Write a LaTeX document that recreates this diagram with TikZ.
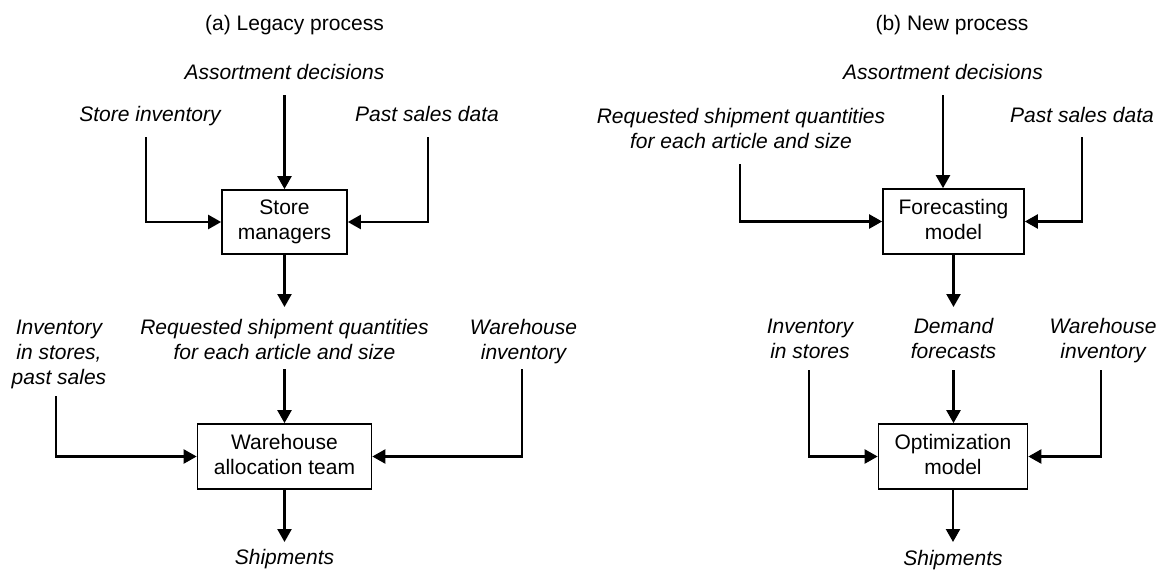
\documentclass[tikz,border=0pt]{standalone}
\usepackage{fontspec}
\setmainfont{Liberation Sans}
\usetikzlibrary{arrows.meta}
\newcommand{\stk}[1]{\begin{tabular}[t]{@{}c@{}}#1\end{tabular}}
\newcommand{\bstk}[1]{\begin{tabular}{@{}c@{}}#1\end{tabular}}
\begin{document}
\begin{tikzpicture}[x=1pt,y=-1pt,
  every node/.style={font=\fontsize{21}{25}\selectfont},
  lbl/.style={anchor=base, inner sep=0pt, font=\fontsize{21}{25}\selectfont\itshape},
  ttl/.style={anchor=base, inner sep=0pt},
  box/.style={draw, line width=1.7pt, inner sep=0pt, anchor=center},
  arr/.style={line width=2.3pt, -{Triangle[length=13pt,width=14pt]}}]
\useasboundingbox (0,0) rectangle (1157,570);

% ---------- (a) Legacy process ----------
\node[ttl] (ta) at (294.5,30) {(a) Legacy process};
\node[lbl] (asA) at (284.5,79) {Assortment decisions};
\node[lbl] (siA) at (150,121) {Store inventory};
\node[lbl] (psA) at (427,121) {Past sales data};
\node[box, minimum width=125pt, minimum height=64pt] (sm) at (284.5,222) {\bstk{Store\\managers}};
\node[lbl] (rqA) at (284.5,334) {\stk{Requested shipment quantities\\for each article and size}};
\node[lbl] (ivA) at (59,334) {\stk{Inventory\\in stores,\\past sales}};
\node[lbl] (wiA) at (523.5,334) {\stk{Warehouse\\inventory}};
\node[box, minimum width=174pt, minimum height=65pt] (wh) at (284.5,456.5) {\bstk{Warehouse\\allocation team}};
\node[lbl] (shA) at (284.5,564) {Shipments};

\draw[arr] (asA.base) ++(0,16) -- (sm.north);
\draw[arr] (siA.base) ++(-4,16) |- (sm.west);
\draw[arr] (psA.base) ++(1,16) |- (sm.east);
\draw[arr] (sm.south) -- ([yshift=27pt]rqA.base);
\draw[arr] (rqA.base) ++(0,35) -- (wh.north);
\draw[arr] (ivA.base) ++(-3,62) |- (wh.west);
\draw[arr] (wiA.base) ++(-1.5,35) |- (wh.east);
\draw[arr] (wh.south) -- ([yshift=22pt]shA.base);

% ---------- (b) New process ----------
\node[ttl] (tb) at (952,30) {(b) New process};
\node[lbl] (asB) at (943,79) {Assortment decisions};
\node[lbl] (rqB) at (741,123) {\stk{Requested shipment quantities\\for each article and size}};
\node[lbl] (psB) at (1082,122) {Past sales data};
\node[box, minimum width=141pt, minimum height=65pt] (fc) at (953.5,221.5) {\bstk{Forecasting\\model}};
\node[lbl] (ivB) at (810,333) {\stk{Inventory\\in stores}};
\node[lbl] (dmB) at (953.5,333) {\stk{Demand\\forecasts}};
\node[lbl] (wiB) at (1103,333) {\stk{Warehouse\\inventory}};
\node[box, minimum width=149pt, minimum height=65pt] (op) at (953,456.5) {\bstk{Optimization\\model}};
\node[lbl] (shB) at (953,565) {Shipments};

\draw[arr] (asB.base) ++(0,16) -- (asB.base |- fc.north);
\draw[arr] (rqB.base) ++(-1,41) |- (fc.west);
\draw[arr] (psB.base) ++(0,15) |- (fc.east);
\draw[arr] (fc.south) -- ([yshift=26pt]dmB.base);
\draw[arr] (dmB.base) ++(0,37) -- (dmB.base |- op.north);
\draw[arr] (ivB.base) ++(-1,37) |- (op.west);
\draw[arr] (wiB.base) ++(-2,37) |- (op.east);
\draw[arr] (op.south) -- ([yshift=23pt]shB.base);
\end{tikzpicture}
\end{document}
